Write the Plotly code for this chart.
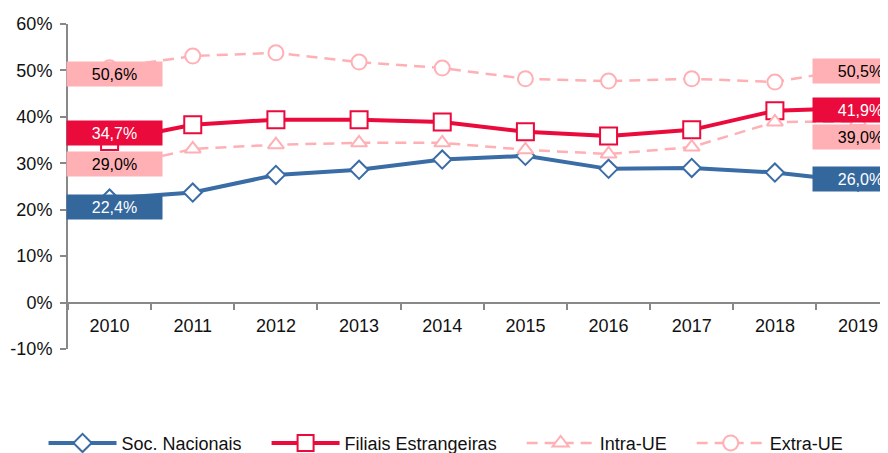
"""Share of companies by group, 2010-2019."""

import plotly.graph_objects as go

YEARS = ["2010", "2011", "2012", "2013", "2014", "2015", "2016", "2017", "2018", "2019"]

SOC_NACIONAIS = [22.4, 23.7, 27.5, 28.6, 30.8, 31.6, 28.8, 29.0, 28.0, 26.0]
FILIAIS_ESTRANGEIRAS = [34.7, 38.3, 39.4, 39.4, 38.9, 36.8, 35.9, 37.2, 41.3, 41.9]
INTRA_UE = [29.0, 33.1, 34.0, 34.4, 34.4, 32.9, 32.0, 33.5, 38.9, 39.0]
EXTRA_UE = [50.6, 53.1, 53.8, 51.8, 50.5, 48.2, 47.7, 48.2, 47.5, 50.5]

Y_TICKS = [-10, 0, 10, 20, 30, 40, 50, 60]
Y_TICK_TEXT = [f"{v}&#37;" for v in Y_TICKS]

BLUE = "#3A6CA6"
BLUE_BOX = "#34679C"
RED = "#EA0A3C"
PINK = "#FFB0B5"
FONT = "Liberation Sans, Arial, sans-serif"
GAP = "\u00a0" * 4  # extra room between legend entries

series = [
    ("Soc. Nacionais" + GAP, SOC_NACIONAIS, BLUE, "solid", 4, "diamond", 14),
    ("Filiais Estrangeiras" + GAP, FILIAIS_ESTRANGEIRAS, RED, "solid", 4, "square", 17),
    ("Intra-UE" + GAP, INTRA_UE, PINK, "11px,7px", 2.5, "triangle-up", 14),
    ("Extra-UE", EXTRA_UE, PINK, "11px,7px", 2.5, "circle", 15),
]

fig = go.Figure()
for name, values, color, dash, width, symbol, size in series:
    fig.add_trace(
        go.Scatter(
            x=YEARS,
            y=values,
            name=name,
            mode="lines+markers",
            line=dict(color=color, width=width, dash=dash),
            marker=dict(
                symbol=symbol,
                size=size,
                color="white",
                line=dict(color=color, width=2),
            ),
        )
    )

# the visible category axis sits on the 0% line; it needs its own categories
fig.add_trace(
    go.Scatter(
        x=YEARS,
        y=SOC_NACIONAIS,
        xaxis="x2",
        mode="lines",
        line=dict(width=0),
        opacity=0,
        showlegend=False,
        hoverinfo="skip",
    )
)

# end-point labels: (values, box colour, text colour, yshift first, yshift last)
labels = [
    (SOC_NACIONAIS, BLUE_BOX, "white", -8, 3),
    (FILIAIS_ESTRANGEIRAS, RED, "white", 8, -2),
    (INTRA_UE, PINK, "black", 4, -15),
    (EXTRA_UE, PINK, "black", -6, -3),
]
for values, box, txt, shift_first, shift_last in labels:
    for idx, shift, xshift in ((0, shift_first, 5), (-1, shift_last, 2)):
        fig.add_annotation(
            x=idx % len(YEARS),
            y=values[idx],
            xref="x",
            yref="y",
            text=f"{values[idx]:.1f}".replace(".", ",") + "&#37;",
            showarrow=False,
            width=95,
            height=24,
            bgcolor=box,
            borderpad=0,
            yshift=shift,
            xshift=xshift,
            font=dict(family=FONT, size=16, color=txt),
        )

fig.update_layout(
    width=880,
    height=465,
    margin=dict(l=60, r=0, t=16, b=123.5),
    plot_bgcolor="white",
    paper_bgcolor="white",
    font=dict(family=FONT, size=18, color="#111111"),
    showlegend=True,
    legend=dict(
        orientation="h",
        x=0.461,
        xanchor="center",
        y=-0.29,
        yanchor="middle",
        font=dict(size=18),
        itemwidth=68,
    ),
    xaxis=dict(
        type="category",
        range=[-0.5, 9.36],
        showline=False,
        showticklabels=False,
        ticks="",
        showgrid=False,
        zeroline=False,
    ),
    xaxis2=dict(
        type="category",
        overlaying="x",
        matches="x",
        anchor="free",
        position=1 / 7,
        showline=True,
        linecolor="#888888",
        linewidth=2,
        ticks="outside",
        tickson="boundaries",
        ticklen=6,
        tickcolor="#888888",
        tickwidth=2,
        ticklabelstandoff=7,
        showgrid=False,
        tickfont=dict(size=18, color="#111111"),
    ),
)

fig.update_yaxes(
    range=[-10, 60],
    tickvals=Y_TICKS,
    ticktext=Y_TICK_TEXT,
    showline=True,
    linecolor="#888888",
    linewidth=2,
    ticks="outside",
    ticklen=6,
    tickcolor="#888888",
    tickwidth=2,
    ticklabelstandoff=4,
    showgrid=False,
    zeroline=False,
    tickfont=dict(size=18, color="#111111"),
)

fig.write_html("out.html")
